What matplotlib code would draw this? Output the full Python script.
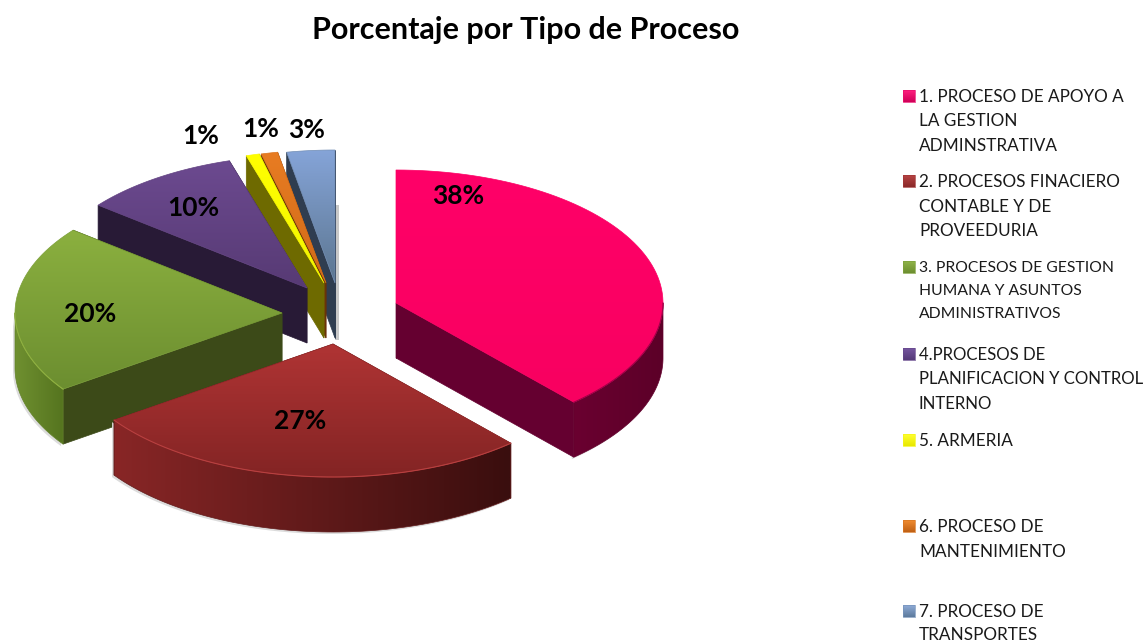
import numpy as np
import matplotlib
matplotlib.use("Agg")
import matplotlib.pyplot as plt
from matplotlib.colors import to_rgb
from matplotlib.patches import Polygon, Rectangle

title = "Porcentaje por Tipo de Proceso"
# the labels show them rounded
values = [38.4, 26.9, 20.4, 9.6, 0.8, 1.0, 2.9]
legend_labels = [
    ["1. PROCESO DE APOYO A", "LA GESTION", "ADMINSTRATIVA"],
    ["2. PROCESOS FINACIERO", "CONTABLE Y DE", "PROVEEDURIA"],
    ["3. PROCESOS DE GESTION", "HUMANA Y ASUNTOS", "ADMINISTRATIVOS"],
    ["4.PROCESOS DE", "PLANIFICACION Y CONTROL", "INTERNO"],
    ["5. ARMERIA"],
    ["6. PROCESO DE", "MANTENIMIENTO"],
    ["7. PROCESO DE", "TRANSPORTES"],
]

# styles: top gradient (upper, lower), rim gradient (left, right), cut face
top_colors = [("#ff0068", "#f80060"), ("#b03434", "#832424"), ("#8bb03f", "#6c8e30"),
              ("#6c4a90", "#573a74"), ("#ffff00", "#f4f400"), ("#e87c22", "#d06a18"),
              ("#85a4d8", "#5c7690")]
rim_colors = [("#6a0030", "#5c0028"), ("#882626", "#3a0e0e"), ("#6f9030", "#55741f"),
              ("#2a1a3a", "#2a1a3a"), ("#706c00", "#706c00"), ("#6a3410", "#6a3410"),
              ("#2f3e52", "#2f3e52")]
cut_colors = ["#650030", "#5a1818", "#3c4a18", "#281a36", "#6e6a00", "#6a3208", "#2f3d50"]
edge_light = ["#a00048", "#b84040", "#8fb040", None, None, None, None]

# exploded centre of each slice, pixel space of the figure
centers = [(396, 303), (333, 344), (282, 313), (307, 288), (324, 283), (326, 283), (335, 283)]
label_pos = [(458, 196), (300, 421), (90, 314), (193, 208), (201, 136), (261, 129), (307, 130)]
legend_y = [97, 182, 268, 355, 441, 527, 612]
legend_step = [24.5, 24.5, 23, 24.5, 25, 25, 23.5]
legend_size = [12.35, 12.35, 11.3, 12.05, 12.35, 12.35, 12.35]
legend_box = [("#ff2080", "#d00058"), ("#b84444", "#8a2828"), ("#90b448", "#6c8e30"),
              ("#7656a0", "#553a78"), ("#ffff30", "#e8e800"), ("#f08c30", "#c06014"),
              ("#90acd8", "#5c7a9c")]

RX, RY, DEPTH = 267, 133, 55

plt.rcParams["font.family"] = ["Lato", "DejaVu Sans"]
fig = plt.figure(figsize=(11.47, 6.42), dpi=100)
ax = fig.add_axes([0, 0, 1, 1])
ax.axis("off")
zo = [1]


def grad(poly, c0, c1, horizontal=False):
    poly = np.asarray(poly)
    ramp = np.linspace(0, 1, 128)[:, None]
    col = (1 - ramp) * np.array(to_rgb(c0)) + ramp * np.array(to_rgb(c1))
    img = col[None, :, :] if horizontal else col[:, None, :]
    x0, y0 = poly.min(axis=0)
    x1, y1 = poly.max(axis=0)
    zo[0] += 1
    im = ax.imshow(img, extent=(x0, x1, y1, y0), aspect="auto", zorder=zo[0],
                   interpolation="bilinear")
    im.set_clip_path(Polygon(poly, transform=ax.transData))
    mid = (np.array(to_rgb(c0)) + np.array(to_rgb(c1))) / 2
    ax.add_patch(Polygon(poly, fill=False, ec=mid, lw=0.5, zorder=zo[0]))


def rim(cx, cy, t):
    return np.column_stack([cx + RX * np.sin(t), cy - RY * np.cos(t)])


edges = np.cumsum([0] + values) / sum(values) * 2 * np.pi

# soft shadow next to the transport slice
ax.add_patch(Rectangle((centers[6][0], 205), 4, 135, color="#c8c8c8", lw=0, zorder=0))

# back slices first, right to left, then the front ones
for i in [6, 5, 4, 3, 2, 1, 0]:
    cx, cy = centers[i]
    a0, a1 = edges[i], edges[i + 1]
    down = np.array([0, DEPTH])
    lo, hi = max(a0, np.pi / 2), min(a1, 3 * np.pi / 2)
    if hi > lo:
        # faint shadow under the rim
        arc = rim(cx, cy, np.linspace(lo, hi, 80))
        zo[0] += 1
        ax.add_patch(Polygon(np.vstack([arc + [-2, 2], arc[::-1] + down + [-2, 2]]),
                             color="#dcdcdc", lw=0, zorder=zo[0]))
    for a in (a1, a0):
        p = rim(cx, cy, np.array([a]))[0]
        quad = [(cx, cy), p, p + down, (cx, cy + DEPTH)]
        zo[0] += 1
        ax.add_patch(Polygon(quad, color=cut_colors[i], lw=0.5, zorder=zo[0]))
    if hi > lo:
        arc = rim(cx, cy, np.linspace(lo, hi, 80))
        grad(np.vstack([arc, arc[::-1] + down]), rim_colors[i][0], rim_colors[i][1], True)
    arc = rim(cx, cy, np.linspace(a0, a1, 80))
    grad(np.vstack([[(cx, cy)], arc]), *top_colors[i])
    if hi > lo and edge_light[i]:
        arc = rim(cx, cy, np.linspace(lo, hi, 80))
        ax.plot(arc[:, 0], arc[:, 1], color=edge_light[i], lw=0.8, zorder=zo[0])

for v, (x, y) in zip(values, label_pos):
    ax.text(x, y, f"{v:.0f}%", ha="center", va="center", fontsize=19, fontweight="bold",
            color="black", zorder=1000)

ax.text(526, 30, title, ha="center", va="center", fontsize=22, fontweight="bold",
        color="black", zorder=1000)

for lines, y, step, size, c in zip(legend_labels, legend_y, legend_step, legend_size, legend_box):
    sq = [(903, y - 7), (915, y - 7), (915, y + 5), (903, y + 5)]
    grad(sq, c[0], c[1])
    zo[0] = max(zo[0], 1000)
    for k, line in enumerate(lines):
        ax.text(919, y + k * step, line, ha="left", va="center", fontsize=size,
                color="#1a1a1a", zorder=1001)

ax.set_xlim(0, 1147)
ax.set_ylim(642, 0)
fig.savefig("out.png", dpi=100)
